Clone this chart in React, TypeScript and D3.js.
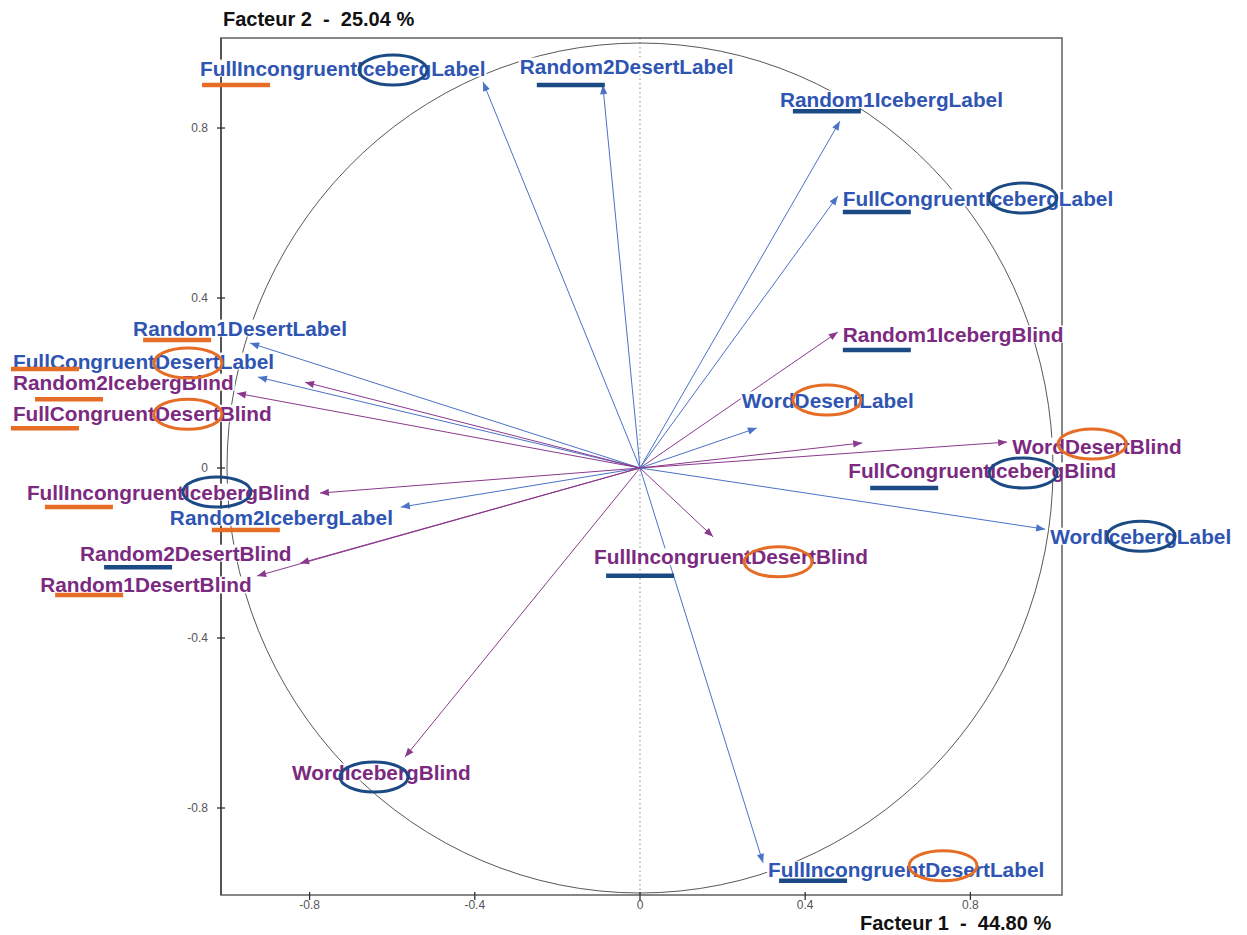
import React from 'react';
import * as d3 from 'd3';

// ---------- data ----------
const variables = [
  'FullIncongruentIcebergLabel',
  'Random2DesertLabel',
  'Random1IcebergLabel',
  'FullCongruentIcebergLabel',
  'Random1IcebergBlind',
  'WordDesertLabel',
  'FullCongruentIcebergBlind',
  'WordDesertBlind',
  'WordIcebergLabel',
  'FullIncongruentDesertBlind',
  'FullIncongruentDesertLabel',
  'WordIcebergBlind',
  'Random1DesertLabel',
  'FullCongruentDesertLabel',
  'Random2IcebergBlind',
  'FullCongruentDesertBlind',
  'FullIncongruentIcebergBlind',
  'Random2IcebergLabel',
  'Random2DesertBlind',
  'Random1DesertBlind',
];
const factor1 = [
  -0.380, -0.090, 0.484, 0.479, 0.479, 0.283, 0.538, 0.889, 0.981, 0.177,
  0.298, -0.569, -0.944, -0.925, -0.811, -0.976, -0.775, -0.579, -0.823, -0.927,
];
const factor2 = [
  0.908, 0.901, 0.816, 0.640, 0.320, 0.094, 0.059, 0.061, -0.144, -0.162,
  -0.929, -0.680, 0.294, 0.214, 0.202, 0.176, -0.059, -0.092, -0.224, -0.254,
];
const tickValues = [-0.8, -0.4, 0, 0.4, 0.8];
const tickLabels = ['-0.8', '-0.4', '0', '0.4', '0.8'];
const titleX = 'Facteur 1  -  44.80 %';
const titleY = 'Facteur 2  -  25.04 %';

// ---------- layout (pixel offsets for annotations) ----------
// label offset from arrow tip [dx, dy]
const labelOffset: Record<string, [number, number]> = {
  FullIncongruentIcebergLabel: [-283, -14],
  Random2DesertLabel: [-83, -19],
  Random1IcebergLabel: [-60, -22],
  FullCongruentIcebergLabel: [5, 2],
  Random1IcebergBlind: [5, 2],
  WordDesertLabel: [-15, -28],
  FullCongruentIcebergBlind: [-14, 28],
  WordDesertBlind: [5, 4],
  WordIcebergLabel: [5, 7],
  FullIncongruentDesertBlind: [-119, 20],
  FullIncongruentDesertLabel: [5, 7],
  WordIcebergBlind: [-113, 15],
  Random1DesertLabel: [-117, -15],
  FullCongruentDesertLabel: [-245, -16],
  Random2IcebergBlind: [-292, 0],
  FullCongruentDesertBlind: [-224, 20],
  FullIncongruentIcebergBlind: [-293, -1],
  Random2IcebergLabel: [-231, 10],
  Random2DesertBlind: [-220, -10],
  Random1DesertBlind: [-217, 9],
};
// underline: [x offset from label start, y offset from label centre, colour key]
const underline: Record<string, [number, number, 'o' | 'n']> = {
  FullIncongruentIcebergLabel: [2, 17, 'o'],
  Random2DesertLabel: [17, 19, 'n'],
  Random1IcebergLabel: [13, 12, 'n'],
  FullCongruentIcebergLabel: [0, 14, 'n'],
  Random1IcebergBlind: [0, 16, 'n'],
  FullCongruentIcebergBlind: [22, 17, 'n'],
  FullIncongruentDesertBlind: [12, 19, 'n'],
  FullIncongruentDesertLabel: [11, 11, 'n'],
  Random1DesertLabel: [10, 12, 'o'],
  FullCongruentDesertLabel: [-2, 8, 'o'],
  Random2IcebergBlind: [22, 17, 'o'],
  FullCongruentDesertBlind: [-2, 15, 'o'],
  FullIncongruentIcebergBlind: [18, 15, 'o'],
  Random2IcebergLabel: [42, 13, 'o'],
  Random2DesertBlind: [24, 14, 'n'],
  Random1DesertBlind: [15, 10, 'o'],
};
// ellipse: [cx offset from label start, cy offset from label centre, colour key]
const ring: Record<string, [number, number, 'o' | 'n']> = {
  FullIncongruentIcebergLabel: [193, 2, 'n'],
  FullCongruentIcebergLabel: [180, 0, 'n'],
  WordDesertLabel: [85, 0, 'o'],
  FullCongruentIcebergBlind: [175, 2, 'n'],
  WordDesertBlind: [80, -2, 'o'],
  WordIcebergLabel: [91, 0, 'n'],
  FullIncongruentDesertBlind: [184, 5, 'o'],
  FullIncongruentDesertLabel: [175, -4, 'o'],
  WordIcebergBlind: [82, 5, 'n'],
  FullCongruentDesertLabel: [175, 2, 'o'],
  FullCongruentDesertBlind: [175, 1, 'o'],
  FullIncongruentIcebergBlind: [190, 0, 'n'],
};

const W = 1247;
const H = 935;
const FRAME = { left: 221, right: 1062, top: 38, bottom: 895 };
const FONT = 'bold 20.8px "Liberation Sans", Arial, sans-serif';

const BLUE_TEXT = '#2f55b3';
const PURPLE_TEXT = '#7b2a7f';
const BLUE_LINE = '#4a72c6';
const PURPLE_LINE = '#8a3a8d';
const ORANGE = '#e66d25';
const NAVY = '#1c4a85';

let ctx: CanvasRenderingContext2D | null = null;
function measure(t: string): number {
  if (!ctx) ctx = document.createElement('canvas').getContext('2d');
  if (!ctx) return t.length * 11;
  ctx.font = FONT;
  return ctx.measureText(t).width;
}

export default function App() {
  const sx = d3.scaleLinear().domain([-1.0145, 1.0218]).range([FRAME.left, FRAME.right]);
  const sy = d3.scaleLinear().domain([-1.0047, 1.0118]).range([FRAME.bottom, FRAME.top]);
  const cx = sx(0);
  const cy = sy(0);
  const rx = sx(1) - sx(0);
  const ry = sy(0) - sy(1);

  const items = variables.map((name, i) => {
    const isLabel = name.endsWith('Label');
    const tx = sx(factor1[i]);
    const ty = sy(factor2[i]);
    const [dx, dy] = labelOffset[name];
    return { name, isLabel, tx, ty, lx: tx + dx, ly: ty + dy, w: measure(name) };
  });

  const head = (x: number, y: number, color: string) => {
    const ang = Math.atan2(y - cy, x - cx);
    const L = 9;
    const hw = 3.6;
    const bx = x - L * Math.cos(ang);
    const by = y - L * Math.sin(ang);
    const px = -Math.sin(ang) * hw;
    const py = Math.cos(ang) * hw;
    return (
      <polygon
        points={`${x},${y} ${bx + px},${by + py} ${bx - px},${by - py}`}
        fill={color}
      />
    );
  };

  return (
    <svg
      width={W}
      height={H}
      style={{ position: 'absolute', left: 0, top: 0, background: '#fff' }}
      fontFamily='"Liberation Sans", Arial, sans-serif'
    >
      <rect x={0} y={0} width={W} height={H} fill="#fff" />
      {/* dotted vertical axis */}
      <line x1={cx} x2={cx} y1={FRAME.top} y2={FRAME.bottom} stroke="#888" strokeWidth={1} strokeDasharray="1.5,3" />
      {/* correlation circle */}
      <ellipse cx={cx} cy={cy} rx={rx} ry={ry} fill="none" stroke="#444" strokeWidth={0.9} />
      {/* frame */}
      <rect
        x={FRAME.left}
        y={FRAME.top}
        width={FRAME.right - FRAME.left}
        height={FRAME.bottom - FRAME.top}
        fill="none"
        stroke="#6a6a6a"
        strokeWidth={1.6}
      />
      <line x1={FRAME.left} x2={FRAME.left} y1={FRAME.top} y2={FRAME.bottom} stroke="#555" strokeWidth={2} />
      {/* ticks */}
      {tickValues.map((v, i) => (
        <g key={'tx' + i}>
          <line x1={sx(v)} x2={sx(v)} y1={FRAME.bottom - 3} y2={FRAME.bottom + 5} stroke="#333" strokeWidth={1.3} />
          <text x={sx(v)} y={FRAME.bottom + 14} textAnchor="middle" fontSize={12} fill="#555">
            {tickLabels[i]}
          </text>
          <line x1={FRAME.left - 4} x2={FRAME.left + 4} y1={sy(v)} y2={sy(v)} stroke="#333" strokeWidth={1.3} />
          <text x={FRAME.left - 13} y={sy(v) + 4} textAnchor="end" fontSize={12} fill="#555">
            {tickLabels[i]}
          </text>
        </g>
      ))}
      {/* arrows */}
      {items.map((d) => {
        const c = d.isLabel ? BLUE_LINE : PURPLE_LINE;
        return (
          <g key={'a' + d.name}>
            <line x1={cx} y1={cy} x2={d.tx} y2={d.ty} stroke={c} strokeWidth={1} />
            {head(d.tx, d.ty, c)}
          </g>
        );
      })}
      {/* labels */}
      {items.map((d) => (
        <g key={'l' + d.name}>
          <rect x={d.lx - 1} y={d.ly - 8.5} width={d.w + 2} height={17} fill="#fff" />
          <text
            x={d.lx}
            y={d.ly}
            dominantBaseline="central"
            style={{ font: FONT }}
            fill={d.isLabel ? BLUE_TEXT : PURPLE_TEXT}
          >
            {d.name}
          </text>
        </g>
      ))}
      {/* hand-drawn highlights */}
      {items.map((d) => {
        const u = underline[d.name];
        const r = ring[d.name];
        return (
          <g key={'h' + d.name}>
            {u && (
              <line
                x1={d.lx + u[0]}
                x2={d.lx + u[0] + 68}
                y1={d.ly + u[1]}
                y2={d.ly + u[1]}
                stroke={u[2] === 'o' ? ORANGE : NAVY}
                strokeWidth={4.5}
              />
            )}
            {r && (
              <ellipse
                cx={d.lx + r[0]}
                cy={d.ly + r[1]}
                rx={34}
                ry={15}
                fill="none"
                stroke={r[2] === 'o' ? ORANGE : NAVY}
                strokeWidth={3}
              />
            )}
          </g>
        );
      })}
      {/* axis titles */}
      <text x={223} y={26} fontSize={20} fontWeight="bold" fill="#111" style={{ whiteSpace: 'pre' }}>
        {titleY}
      </text>
      <text x={860} y={930} fontSize={20} fontWeight="bold" fill="#111" style={{ whiteSpace: 'pre' }}>
        {titleX}
      </text>
    </svg>
  );
}
